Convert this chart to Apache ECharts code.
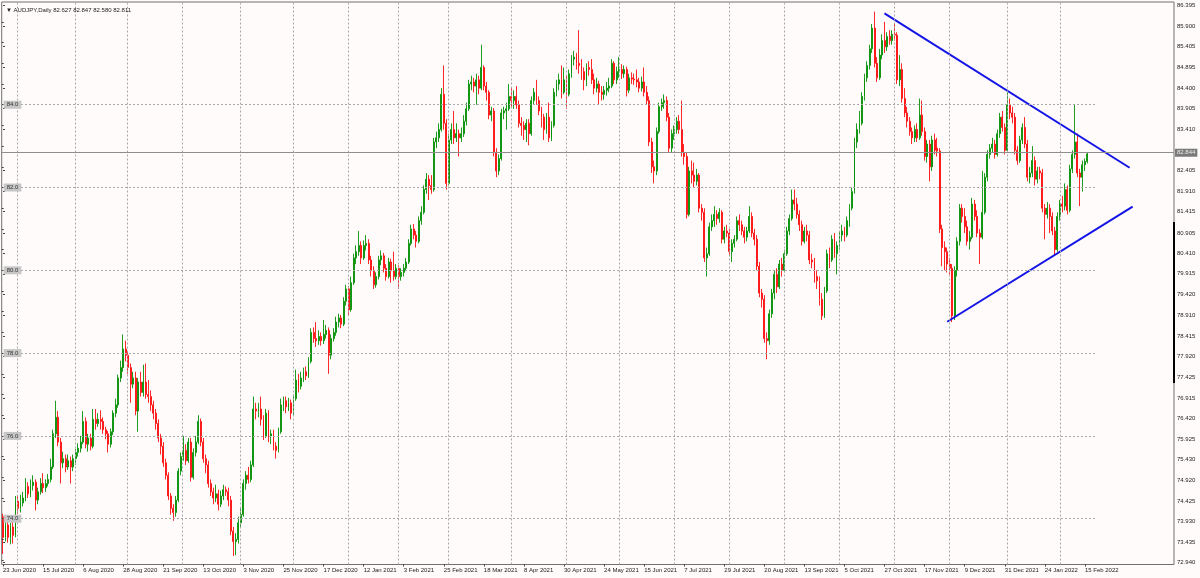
<!DOCTYPE html>
<html><head><meta charset="utf-8">
<script src="https://cdn.jsdelivr.net/npm/echarts@6/dist/echarts.min.js"></script>
<style>html,body{margin:0;padding:0;background:#fffbfa}#c{width:1200px;height:578px}</style>
</head><body><div id="c"></div>
<script>
const headerText = 'AUDJPY,Daily 82.627 82.847 82.580 82.811';
const lastPrice = 82.844;
const tickBars = [0,16,32,48,64,80,96,112,128,144,160,176,192,208,224,240,256,272,288,304,320,336,352,368,384,400,416,432];
const tickLabels = ['23 Jun 2020','15 Jul 2020','6 Aug 2020','28 Aug 2020','21 Sep 2020','13 Oct 2020','3 Nov 2020','25 Nov 2020','17 Dec 2020','12 Jan 2021','3 Feb 2021','25 Feb 2021','18 Mar 2021','8 Apr 2021','30 Apr 2021','24 May 2021','15 Jun 2021','7 Jul 2021','29 Jul 2021','20 Aug 2021','13 Sep 2021','5 Oct 2021','27 Oct 2021','17 Nov 2021','9 Dec 2021','31 Dec 2021','24 Jan 2022','15 Feb 2022'];
const monthStartBars = [6,29,50,72,95,116,138,158,178,203,225,246,268,290,312,334,356,378,401,422];
const rightTickValues = [86.395,85.900,85.405,84.895,84.400,83.905,83.410,82.405,81.910,81.415,80.905,80.410,79.915,79.420,78.910,78.415,77.920,77.425,76.915,76.420,75.925,75.430,74.920,74.425,73.930,73.435,72.940];
const leftLabelValues = [74,76,78,80,82,84];
const leftTickValues = [73,73.5,74,74.5,75,75.5,76,76.5,77,77.5,78,78.5,79,79.5,80,80.5,81,81.5,82,82.5,83,83.5,84,84.5,85,85.5,86];
const upperTrend = [[351.96,86.208],[449.84,82.478]];
const lowerTrend = [[376.98,78.758],[451.04,81.536]];
// [open, close, low, high]
const bars = [
[74.05,73.55,73.15,74.12],[73.55,73.85,73.45,73.95],[73.85,73.55,73.42,73.95],[73.55,73.80,73.38,73.90],[73.80,73.60,73.40,73.92],
[73.60,74.42,73.55,74.55],[74.42,74.25,74.12,74.55],[74.25,74.38,74.15,74.58],[74.38,74.50,74.30,74.65],[74.50,74.78,74.42,74.98],
[74.78,74.60,74.50,74.88],[74.60,74.80,74.52,74.95],[74.80,74.88,74.68,75.05],[74.88,74.45,74.20,74.95],[74.45,74.65,74.35,74.75],
[74.65,74.85,74.58,74.98],[74.85,74.75,74.62,75.10],[74.75,74.85,74.65,74.95],[74.85,74.95,74.78,75.08],[74.95,75.25,74.88,75.45],
[75.25,76.05,75.20,76.15],[76.05,76.45,75.95,76.85],[76.45,75.85,75.75,76.60],[75.85,75.35,74.85,75.95],[75.35,75.45,75.22,75.62],
[75.45,75.25,75.12,75.55],[75.25,75.40,75.18,75.55],[75.40,75.25,74.85,75.50],[75.25,75.45,75.15,75.55],[75.45,75.60,75.30,75.68],
[75.60,75.70,75.50,75.82],[75.70,75.85,75.60,76.00],[75.85,76.35,75.80,76.60],[76.35,75.80,75.70,76.45],[75.80,75.95,75.62,76.05],
[75.95,75.75,75.65,76.05],[75.75,76.40,75.70,76.65],[76.40,76.30,76.15,76.65],[76.30,76.40,76.22,76.55],[76.40,76.35,76.15,76.62],
[76.35,76.15,76.05,76.45],[76.15,76.05,75.92,76.22],[76.05,75.80,75.60,76.12],[75.80,76.10,75.72,76.18],[76.10,76.55,76.02,76.62],
[76.55,76.75,76.45,76.90],[76.75,77.40,76.68,77.48],[77.40,77.65,77.30,77.82],[77.65,78.10,77.55,78.45],[78.10,77.95,77.80,78.30],
[77.95,77.65,77.50,78.05],[77.65,77.25,76.80,77.75],[77.25,77.40,77.15,77.55],[77.40,76.60,76.50,77.55],[76.60,77.30,76.10,77.40],
[77.30,77.05,76.95,77.55],[77.05,77.30,76.95,77.72],[77.30,77.00,76.90,77.75],[77.00,76.95,76.80,77.35],[76.95,76.75,76.60,77.10],
[76.75,76.55,76.40,76.85],[76.55,76.30,76.15,76.65],[76.30,75.95,75.85,76.40],[75.95,75.75,75.55,76.05],[75.75,75.35,75.25,75.85],
[75.35,75.05,74.95,75.45],[75.05,74.55,74.45,75.12],[74.55,74.25,74.10,74.62],[74.25,74.15,73.95,74.35],[74.15,74.45,74.05,74.55],
[74.45,75.15,74.40,75.22],[75.15,75.50,75.05,75.60],[75.50,75.65,75.40,76.00],[75.65,75.40,75.30,75.80],[75.40,75.85,75.35,75.95],
[75.85,75.00,74.90,75.95],[75.00,75.60,74.95,75.70],[75.60,75.85,75.50,76.00],[75.85,76.35,75.80,76.50],[76.35,75.85,75.75,76.42],
[75.85,75.45,75.35,75.95],[75.45,75.30,75.10,75.55],[75.30,74.85,74.75,75.40],[74.85,74.65,74.55,74.95],[74.65,74.50,74.35,74.75],
[74.50,74.60,74.40,74.82],[74.60,74.35,74.20,74.70],[74.35,74.55,74.28,74.68],[74.55,74.70,74.45,74.82],[74.70,74.65,74.55,74.78],
[74.65,74.45,74.30,74.75],[74.45,73.70,73.60,74.55],[73.70,73.45,73.10,73.80],[73.45,73.50,73.12,73.65],[73.50,73.90,73.40,74.05],
[73.90,74.10,73.80,74.25],[74.10,74.85,74.05,74.95],[74.85,75.05,74.70,75.15],[75.05,74.95,74.85,75.25],[74.95,75.30,74.88,75.40],
[75.30,76.65,75.25,76.95],[76.65,76.60,76.40,76.80],[76.60,76.65,76.45,76.80],[76.65,76.40,76.25,76.95],[76.40,76.00,75.90,76.50],
[76.00,76.55,75.95,76.65],[76.55,76.00,75.85,76.62],[76.00,76.05,75.80,76.15],[76.05,75.75,75.65,76.15],[75.75,75.65,75.45,75.85],
[75.65,76.10,75.60,76.20],[76.10,76.75,76.05,76.90],[76.75,76.85,76.60,76.95],[76.85,76.70,76.55,76.95],[76.70,76.80,76.60,76.92],
[76.80,76.55,76.40,76.88],[76.55,76.90,76.48,77.00],[76.90,77.35,76.85,77.60],[77.35,77.20,77.05,77.50],[77.20,77.40,77.12,77.55],
[77.40,77.55,77.30,77.65],[77.55,77.45,77.35,77.68],[77.45,77.80,77.40,77.90],[77.80,78.50,77.75,78.60],[78.50,78.35,78.25,78.62],
[78.35,78.30,78.15,78.75],[78.30,78.40,78.20,78.55],[78.40,78.30,78.18,78.50],[78.30,78.45,78.22,78.80],[78.45,78.55,78.35,78.68],
[78.55,77.95,77.50,78.62],[77.95,78.35,77.85,78.45],[78.35,78.50,78.28,78.60],[78.50,78.75,78.42,78.88],[78.75,78.85,78.62,78.95],
[78.85,78.70,78.60,78.92],[78.70,79.25,78.65,79.35],[79.25,79.55,79.15,79.65],[79.55,79.05,78.90,79.62],[79.05,79.70,79.00,79.85],
[79.70,80.30,79.65,80.40],[80.30,80.45,80.15,80.60],[80.45,80.60,80.35,80.95],[80.60,80.30,80.15,80.70],[80.30,80.60,80.25,80.72],
[80.60,80.65,80.48,80.85],[80.65,80.25,80.15,80.75],[80.25,80.00,79.85,80.35],[80.00,79.65,79.55,80.10],[79.65,79.85,79.58,79.95],
[79.85,80.25,79.78,80.35],[80.25,80.35,80.12,80.48],[80.35,80.05,79.95,80.42],[80.05,79.85,79.75,80.15],[79.85,80.20,79.80,80.30],
[80.20,80.00,79.70,80.28],[80.00,79.85,79.75,80.45],[79.85,80.05,79.78,80.15],[80.05,79.85,79.55,80.12],[79.85,79.95,79.75,80.05],
[79.95,80.05,79.85,80.15],[80.05,80.20,79.98,80.30],[80.20,80.65,80.15,80.75],[80.65,81.00,80.60,81.10],[81.00,80.85,80.75,81.12],
[80.85,80.70,80.55,80.95],[80.70,81.20,80.65,81.30],[81.20,81.40,81.10,81.55],[81.40,81.95,81.35,82.05],[81.95,82.20,81.85,82.35],
[82.20,82.05,81.70,82.30],[82.05,81.95,81.85,82.30],[81.95,83.10,81.90,83.20],[83.10,83.20,82.95,83.35],[83.20,83.40,83.10,83.55],
[83.40,84.25,83.35,84.40],[84.25,83.55,83.40,84.95],[83.55,82.10,81.95,83.65],[82.10,83.15,82.05,83.30],[83.15,83.40,83.05,83.55],
[83.40,83.20,83.05,83.85],[83.20,83.30,83.10,83.55],[83.30,83.20,82.75,83.40],[83.20,83.30,83.10,83.45],[83.30,83.60,83.22,83.75],
[83.60,83.90,83.50,84.05],[83.90,84.50,83.85,84.60],[84.50,84.55,84.35,84.70],[84.55,84.45,84.30,84.65],[84.45,84.60,84.00,84.75],
[84.60,84.40,84.25,84.70],[84.40,84.90,84.35,85.45],[84.90,84.45,84.35,84.95],[84.45,84.30,84.10,84.55],[84.30,83.75,83.65,84.35],
[83.75,83.85,83.60,83.95],[83.85,82.85,82.75,83.92],[82.85,82.40,82.25,82.95],[82.40,82.70,82.30,82.80],[82.70,83.80,82.65,83.90],
[83.80,83.85,83.65,83.95],[83.85,83.90,83.40,84.05],[83.90,84.20,83.85,84.50],[84.20,84.10,83.95,84.40],[84.10,84.20,83.90,84.35],
[84.20,84.00,83.90,84.45],[84.00,83.55,83.45,84.10],[83.55,83.50,83.25,83.70],[83.50,83.40,83.15,83.60],[83.40,83.55,83.10,83.65],
[83.55,83.30,83.02,83.65],[83.30,84.10,83.25,84.20],[84.10,84.30,84.00,84.40],[84.30,84.10,84.00,84.60],[84.10,83.85,83.75,84.20],
[83.85,83.70,83.45,83.95],[83.70,83.40,83.15,83.78],[83.40,83.70,83.30,83.80],[83.70,83.20,83.10,84.05],[83.20,83.50,83.12,83.60],
[83.50,84.30,83.45,84.40],[84.30,84.50,84.20,84.60],[84.50,84.60,84.35,84.75],[84.60,84.30,84.15,84.95],[84.30,84.60,84.25,84.90],
[84.60,84.25,83.90,84.70],[84.25,84.75,84.20,84.85],[84.75,85.10,84.65,85.20],[85.10,85.15,84.95,85.30],[85.15,85.00,84.85,85.25],
[85.00,84.95,84.75,85.80],[84.95,84.80,84.60,85.10],[84.80,84.60,84.35,84.90],[84.60,84.90,84.45,85.00],[84.90,84.85,84.70,85.05],
[84.85,84.60,84.50,85.10],[84.60,84.40,84.25,84.75],[84.40,84.50,84.30,84.65],[84.50,84.30,84.00,84.58],[84.30,84.25,84.10,84.45],
[84.25,84.35,84.12,84.45],[84.35,84.40,84.22,84.55],[84.40,84.45,84.30,84.65],[84.45,85.00,84.40,85.10],[85.00,84.60,84.50,85.05],
[84.60,84.80,84.50,84.92],[84.80,84.85,84.65,85.15],[84.85,84.75,84.62,84.98],[84.75,84.85,84.65,84.95],[84.85,84.35,84.20,84.92],
[84.35,84.65,84.28,84.75],[84.65,84.62,84.50,84.78],[84.62,84.60,84.48,84.75],[84.60,84.55,84.42,84.85],[84.55,84.40,84.30,84.65],
[84.40,84.55,84.32,84.68],[84.55,84.30,84.20,84.90],[84.30,84.10,84.00,84.45],[84.10,83.10,83.00,84.20],[83.10,82.50,82.35,83.20],
[82.50,82.40,82.10,82.65],[82.40,83.35,82.30,83.45],[83.35,83.95,83.30,84.05],[83.95,84.05,83.85,84.15],[84.05,84.10,83.90,84.25],
[84.10,83.70,83.60,84.20],[83.70,82.95,82.85,83.80],[82.95,83.30,82.85,83.40],[83.30,83.40,83.15,83.50],[83.40,83.60,83.30,83.70],
[83.60,83.40,83.30,83.75],[83.40,82.85,82.75,84.10],[82.85,82.75,82.55,83.05],[82.75,81.35,81.25,82.85],[81.35,82.40,81.30,82.50],
[82.40,82.30,82.10,82.65],[82.30,82.15,82.00,82.60],[82.15,82.30,82.05,82.45],[82.30,81.50,81.40,82.35],[81.50,81.40,81.20,81.60],
[81.40,80.30,80.20,81.50],[80.30,80.40,79.85,80.55],[80.40,81.05,80.35,81.15],[81.05,81.20,80.95,81.35],[81.20,81.35,81.05,81.55],
[81.35,81.25,81.10,81.45],[81.25,81.40,81.15,81.50],[81.40,80.75,80.65,81.45],[80.75,80.95,80.65,81.05],[80.95,80.90,80.80,81.10],
[80.90,80.45,80.35,81.00],[80.45,80.65,80.20,80.75],[80.65,80.75,80.55,80.85],[80.75,81.20,80.70,81.30],[81.20,81.10,80.95,81.35],
[81.10,80.95,80.85,81.20],[80.95,80.80,80.65,81.05],[80.80,80.95,80.70,81.05],[80.95,81.30,80.90,81.55],[81.30,80.90,80.80,81.40],
[80.90,80.75,80.60,81.00],[80.75,80.10,80.00,80.85],[80.10,79.45,79.35,80.20],[79.45,79.30,79.10,79.55],[79.30,78.35,78.25,79.40],
[78.35,78.30,77.85,78.50],[78.30,78.95,78.20,79.05],[78.95,79.45,78.85,79.55],[79.45,79.90,79.30,80.00],[79.90,79.60,79.45,80.05],
[79.60,80.15,79.55,80.25],[80.15,80.00,79.85,80.30],[80.00,80.40,79.95,80.50],[80.40,80.95,80.35,81.05],[80.95,81.25,80.85,81.35],
[81.25,81.70,81.20,81.95],[81.70,81.60,81.45,81.95],[81.60,81.35,81.25,81.75],[81.35,81.10,80.95,81.45],[81.10,80.70,80.60,81.20],
[80.70,80.95,80.65,81.05],[80.95,80.85,80.70,81.10],[80.85,80.25,80.15,80.95],[80.25,80.20,80.05,80.40],[80.20,79.85,79.70,80.30],
[79.85,79.75,79.55,80.00],[79.75,79.30,79.15,79.85],[79.30,78.90,78.80,79.45],[78.90,79.50,78.85,79.60],[79.50,80.40,79.45,80.50],
[80.40,80.25,80.05,80.55],[80.25,80.75,80.20,80.85],[80.75,80.40,80.30,80.90],[80.40,80.60,79.90,80.70],[80.60,80.85,80.50,80.95],
[80.85,80.95,80.70,81.10],[80.95,80.85,80.70,81.05],[80.85,81.20,80.80,81.30],[81.20,81.50,81.05,81.60],[81.50,81.90,81.45,82.00],
[81.90,83.10,81.85,83.20],[83.10,83.40,82.95,83.55],[83.40,83.55,83.30,83.85],[83.55,84.20,83.50,84.30],[84.20,84.65,84.10,84.75],
[84.65,84.95,84.55,85.05],[84.95,85.35,84.85,85.45],[85.35,85.85,85.25,85.95],[85.85,85.00,84.90,86.25],[85.00,84.65,84.55,85.15],
[84.65,85.20,84.60,85.35],[85.20,85.55,85.10,85.70],[85.55,85.40,85.25,86.00],[85.40,85.65,85.30,85.75],[85.65,85.55,85.45,85.80],
[85.55,85.70,85.45,85.80],[85.70,85.68,85.55,85.95],[85.68,84.60,84.50,85.75],[84.60,84.85,84.45,85.20],[84.85,84.15,84.05,85.00],
[84.15,83.80,83.70,84.40],[83.80,83.60,83.45,83.95],[83.60,83.35,83.25,83.70],[83.35,83.20,83.05,83.45],[83.20,83.40,83.10,83.50],
[83.40,83.20,83.10,83.55],[83.20,83.75,83.15,84.15],[83.75,83.35,83.25,84.10],[83.35,82.75,82.65,83.45],[82.75,83.05,82.60,83.15],
[83.05,82.50,82.15,83.15],[82.50,83.15,82.40,83.25],[83.15,82.90,82.80,83.30],[82.95,82.88,82.75,83.20],[82.88,81.00,80.90,82.95],
[81.00,80.55,80.10,81.10],[80.55,80.45,80.00,80.70],[80.45,80.15,79.95,80.55],[80.15,80.05,79.90,80.30],[80.05,78.90,78.75,80.15],
[78.90,80.00,78.80,80.10],[80.00,80.70,79.85,80.80],[80.70,81.50,80.60,81.60],[81.50,81.30,81.15,81.60],[81.30,81.05,80.90,81.50],
[81.05,80.70,80.60,81.20],[80.70,80.80,80.50,80.95],[80.80,81.60,80.75,81.75],[81.60,81.30,81.20,81.70],[81.30,80.90,80.80,81.45],
[80.90,80.80,80.15,81.00],[80.80,81.40,80.75,82.40],[81.40,82.25,81.35,82.35],[82.25,82.80,82.15,82.90],[82.80,82.95,82.70,83.05],
[82.95,83.05,82.85,83.20],[83.05,82.80,82.70,83.15],[82.80,83.30,82.75,83.40],[83.30,83.70,83.20,83.80],[83.70,83.45,83.35,83.85],
[83.45,82.90,82.80,83.55],[82.90,84.00,82.85,84.30],[84.00,83.80,83.65,84.15],[83.80,83.70,83.55,83.95],[83.70,82.90,82.80,83.80],
[82.90,82.65,82.55,83.00],[82.65,83.15,82.60,83.25],[83.15,83.45,83.05,83.55],[83.45,83.05,82.95,83.70],[83.05,82.25,82.15,83.15],
[82.25,82.35,82.10,82.50],[82.35,82.65,82.25,83.00],[82.65,82.20,82.05,82.75],[82.20,82.40,82.10,82.50],[82.40,82.35,82.20,82.50],
[82.35,81.50,81.40,82.45],[81.50,81.35,80.75,81.60],[81.35,81.50,81.25,81.65],[81.50,81.30,80.90,81.60],[81.30,80.95,80.85,81.40],
[80.95,80.50,80.35,81.05],[80.50,81.30,80.45,81.40],[81.30,81.60,81.20,81.70],[81.60,81.55,81.40,81.80],[81.55,81.95,81.45,82.10],
[81.95,81.45,81.35,82.05],[81.45,82.45,81.40,82.55],[82.45,82.80,82.35,82.90],[82.80,83.10,82.70,84.00],[83.10,82.35,82.25,83.30],
[82.35,82.25,81.55,82.45],[82.25,82.55,81.90,82.65],[82.55,82.627,82.40,82.70],[82.627,82.811,82.580,82.847]
];

const yMin = 72.894, yMax = 86.481;
const xMin = -0.52, xMax = 467.56, xMaxShort = 436.83;
const FONT = 'Liberation Sans';

const chart = echarts.init(document.getElementById('c'), null, {renderer: 'canvas'});
const candleData = bars.map((b, i) => [i, b[0], b[1], b[2], b[3]]);
const gridLineStyle = {color: '#a8a8a8', width: 1, type: [2, 2]};

chart.setOption({
  backgroundColor: '#fffbfa',
  animation: false,
  title: {
    text: '\u25BC ' + headerText, left: 1, top: 2,
    textStyle: {fontSize: 6, fontWeight: 'normal', color: '#222', fontFamily: FONT}
  },
  grid: [
    {left: 1, right: 26, top: 2, bottom: 13.5, show: true, borderColor: '#707070', borderWidth: 1, backgroundColor: 'transparent', containLabel: false},
    {left: 1, right: 103, top: 2, bottom: 13.5, show: false, containLabel: false}
  ],
  xAxis: [
    {type: 'value', gridIndex: 0, min: xMin, max: xMax,
     axisLine: {show: false}, splitLine: {show: false},
     axisTick: {show: true, customValues: tickBars, length: 2, lineStyle: {color: '#444'}},
     axisLabel: {show: true, customValues: tickBars, align: 'left', margin: 3, fontSize: 6, color: '#222', fontFamily: FONT,
       formatter: v => tickLabels[tickBars.indexOf(Math.round(v))] || ''}},
    {type: 'value', gridIndex: 1, min: xMin, max: xMaxShort, show: false}
  ],
  yAxis: [
    {type: 'value', gridIndex: 0, position: 'right', min: yMin, max: yMax, scale: true,
     axisLine: {show: false}, splitLine: {show: false},
     axisTick: {show: true, customValues: rightTickValues, length: 2, lineStyle: {color: '#444'}},
     axisLabel: {show: true, customValues: rightTickValues, margin: 3, fontSize: 6, color: '#222', fontFamily: FONT,
       formatter: v => v.toFixed(3)}},
    {type: 'value', gridIndex: 0, position: 'left', min: yMin, max: yMax, scale: true, z: 10,
     axisLine: {show: false}, splitLine: {show: false},
     axisTick: {show: true, inside: true, customValues: leftTickValues, length: 2, lineStyle: {color: '#444'}},
     axisLabel: {show: true, inside: true, customValues: leftLabelValues, margin: 2, fontSize: 6, color: '#333', fontFamily: FONT,
       backgroundColor: '#c6c6c6', padding: [1, 3], formatter: v => v.toFixed(1)}},
    {type: 'value', gridIndex: 1, min: yMin, max: yMax, scale: true, show: false}
  ],
  graphic: [
    {type: 'rect', shape: {x: 1173, y: 222, width: 2, height: 161}, style: {fill: '#000'}, z: 20}
  ],
  series: [
    {type: 'line', xAxisIndex: 1, yAxisIndex: 2, data: [[-5, 80]], showSymbol: false, silent: true,
     lineStyle: {opacity: 0}, z: 1,
     markLine: {silent: true, symbol: 'none', animation: false, label: {show: false}, lineStyle: gridLineStyle,
       data: leftLabelValues.map(v => ({yAxis: v})).concat(monthStartBars.map(v => ({xAxis: v})))}},
    {type: 'candlestick', xAxisIndex: 0, yAxisIndex: 0, data: candleData, barWidth: 1.4, z: 3,
     itemStyle: {color: '#079107', color0: '#ff1010', borderColor: '#079107', borderColor0: '#ff1010', borderWidth: 0.9},
     markLine: {silent: true, symbol: 'none', animation: false,
       lineStyle: {color: '#8e8e8e', width: 1, type: 'solid'},
       label: {show: true, position: 'end', distance: 1, formatter: lastPrice.toFixed(3), fontSize: 6, color: '#eeeeee',
         backgroundColor: '#7a7a7a', padding: [1, 2], fontFamily: FONT},
       data: [{yAxis: lastPrice}]}},
    {type: 'line', xAxisIndex: 0, yAxisIndex: 0, data: upperTrend, showSymbol: false, silent: true, z: 4,
     lineStyle: {color: '#1414e6', width: 2}},
    {type: 'line', xAxisIndex: 0, yAxisIndex: 0, data: lowerTrend, showSymbol: false, silent: true, z: 4,
     lineStyle: {color: '#1414e6', width: 2}}
  ]
});
</script></body></html>
